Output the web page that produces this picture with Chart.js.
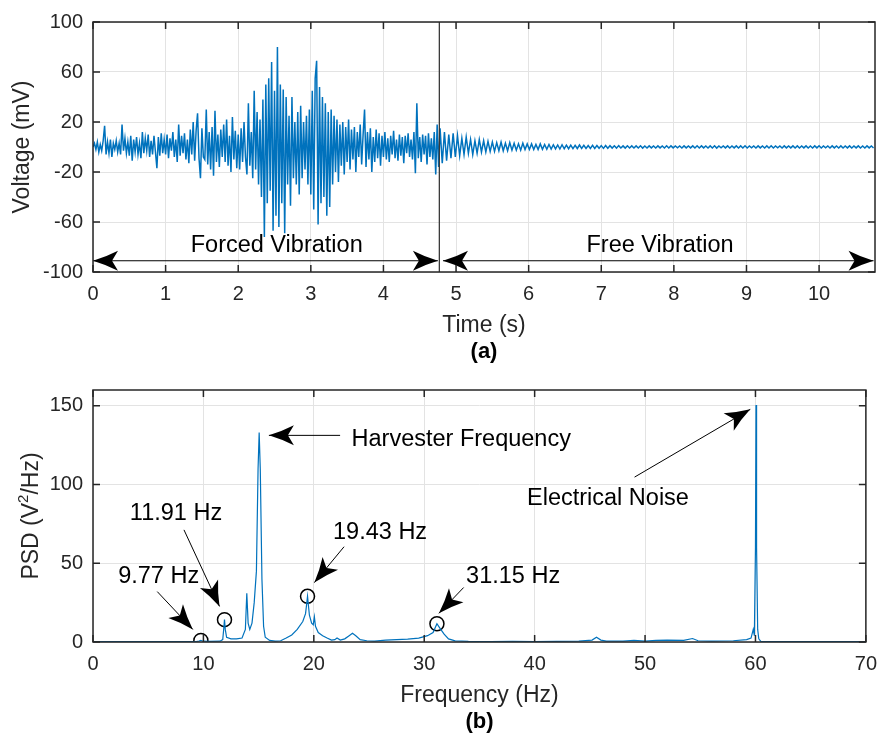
<!DOCTYPE html>
<html>
<head>
<meta charset="utf-8">
<title>Harvester voltage and PSD</title>
<script src="https://cdn.jsdelivr.net/npm/chart.js@4.4.1/dist/chart.umd.min.js"></script>
<style>
  html, body { margin: 0; padding: 0; background: #fff; }
  #wrap { position: relative; width: 887px; height: 733px; }
  canvas { position: absolute; left: 0; }
  #timeChart { top: 0; }
  #psdChart { top: 368px; }
</style>
</head>
<body>
<div id="wrap">
  <canvas id="timeChart" width="887" height="368"></canvas>
  <canvas id="psdChart" width="887" height="365"></canvas>
</div>
<script>
// (a) voltage record, mV. Forced part sampled every 0.02 s from t = 0,
// free decay listed peak to peak every 0.03 s from t = 4.78 s.
const forcedStep = 0.02;
const forcedVoltage = [
  0, 3, -2, 4, -4, 2, -3, 5, 17, -6, 4, -5, 6, -8, 3, -2, 5, -4, 3, -6, 18, -3, 7, -5, 4,
  -7, 9, -11, 6, -4, 8, -6, 3, -9, 12, -5, 7, -3, 10, -8, 5, -6, 9, -4, -17, 8, -7, 11, -5, 6,
  -6, 10, -9, 7, -3, 12, -8, 6, -12, 18, -7, 9, -5, 11, -10, 6, -13, 14, -6, 20, -11, 13, 27, -9, -25,
  15, -8, -10, 30, -14, 12, -18, 16, -23, 29, -12, 10, -16, 14, -8, 18, -12, 22, -15, 9, -20, 24, -10, 13, -17,
  10, -18, 15, -12, 20, -8, -22, 35, -15, 12, -25, 45, -18, 28, -30, 22, -40, 38, -72, 50, -45, 55, -35, 68, -67,
  45, -55, 80, -64, 50, -45, 46, -69, 40, -30, 25, -47, 40, -25, 20, -30, 28, -38, 33, -25, 20, -18, 25, -30, 30,
  -38, 45, -50, 55, 69, -62, 48, -45, 40, -40, 35, -55, 28, -48, 30, -30, 25, -20, 22, -28, 18, -15, 20, -22, 16,
  -12, 22, -18, 14, -10, 16, -20, 12, -8, 18, -14, 10, 30, -16, 12, -10, 15, -20, 8, -12, 14, -9, 11, -15, 9,
  -8, 12, -10, 7, -12, 9, -6, 13, -9, 6, -11, 10, -7, 8, -13, 9, -5, 11, -8, 6, -10, 12, -21, 35, -9,
  8, -12, 10, -6, 9, -14, 11, -8, 7, -10, 12, -22, 18, -16
];
const freeStart = 4.78;
const freeStep = 0.03;
const freeVoltage = [
  15, -13, 12, -11, 10, -9, 11, -8, 9, -7,
  7, -6, 8, -5, 6, -6, 5, -5, 6, -4,
  5, -4, 4.5, -3.5, 4, -3.5, 3.5, -3, 4, -3,
  3, -3, 3.5, -2.5, 3, -2.5, 2.5, -2.5, 3, -2,
  2.5, -2, 2.5, -2, 2, -2, 2.5, -1.8, 2, -1.8,
  2, -1.6, 1.8, -1.5, 1.6, -1.6, 1.8, -1.4, 1.5, -1.4,
  1.5, -1.3, 1.4, -1.2, 1.6, -1.2, 1.3, -1.2, 1.2, -1.1,
  1.3, -1.1, 1.2, -1, 1.1, -1.1, 1.2, -1, 1, -0.9,
  1, -0.9, 1.1, -0.8, 0.9, -0.9, 1, -0.8, 0.9, -0.8,
  0.9, -0.8, 1, -0.9, 0.8, -0.8, 0.9, -0.7, 0.8, -0.8,
  0.9, -0.7, 0.8, -0.8, 1, -0.8, 0.9, -0.7, 0.8, -0.7,
  0.8, -0.8, 0.9, -0.7, 0.8, -0.7, 0.9, -0.8, 1, -0.8,
  0.9, -0.7, 0.8, -0.8, 0.9, -0.8, 1, -0.9, 0.8, -0.7,
  0.8, -0.7, 0.9, -0.8, 0.8, -0.7, 0.9, -0.8, 0.9, -0.8,
  1, -0.8, 0.8, -0.7, 0.8, -0.8, 0.9, -0.7, 0.8, -0.8,
  0.9, -0.8, 1, -0.8, 0.8, -0.7, 0.8, -0.8, 0.9, -0.7,
  0.8, -0.7, 0.9, -0.8, 0.9, -0.8, 0.8, -0.7, 0.9, -0.8,
  0.8, -0.8, 0.9, -0.7, 1, -0.8, 0.8, -0.7, 0.8, -0.8,
  0.9, -0.7, 0.8, -0.8, 0.9, -0.8, 0.8, -0.7, 0.9, -0.8,
  0.8, -0.7, 0.9, -0.8, 0.8, -0.8, 0.9, -0.7, 0.8, -0.8
];
const switchTime = 4.77;
const timeTicks = [0, 1, 2, 3, 4, 5, 6, 7, 8, 9, 10];
const voltageTicks = [-100, -60, -20, 20, 60, 100];

// (b) power spectral density
const psdFreq = [
  0, 2, 5, 8, 9.4, 9.6, 9.77, 9.95, 10.5, 11.5, 11.75, 11.85, 11.91, 11.98, 12.1, 12.5, 13, 13.5,
  13.8, 13.93, 14.05, 14.2, 14.4, 14.6, 14.8, 14.95, 15.05, 15.15, 15.3, 15.45, 15.6, 16, 16.5,
  17, 17.5, 18, 18.5, 19, 19.25, 19.35, 19.43, 19.5, 19.6, 19.8, 19.95, 20.05, 20.15, 20.4, 20.8,
  21.2, 21.6, 21.9, 22.1, 22.4, 22.8, 23.2, 23.5, 23.8, 24.2, 24.8, 25.5, 26.5, 27.5, 28.5, 29.5,
  30.3, 30.8, 31.15, 31.4, 31.8, 32.2, 32.8, 34, 36, 38, 40, 42, 44, 45.2, 45.6, 46, 46.5, 48, 49,
  50, 51, 52, 53.5, 54.3, 54.8, 56, 58, 59.2, 59.6, 59.8, 59.9, 60, 60.05, 60.1, 60.2, 60.3, 60.5,
  62, 65, 70
];
const psdValue = [
  0.2, 0.2, 0.2, 0.3, 0.4, 0.6, 1.0, 0.5, 0.4, 0.5, 1.5, 9, 14.2, 8, 3, 2, 2, 2.5,
  8, 31, 12, 8, 12, 25, 45, 110, 133, 110, 40, 10, 3, 1, 0.5,
  0.8, 2.5, 4.5, 8, 13, 18, 24, 29, 24, 17, 12, 11, 16, 10, 6, 4,
  2.5, 1.2, 1.5, 2.5, 1.2, 2, 4, 5.5, 4, 1.5, 0.8, 0.6, 1.2, 1.5, 1.8, 2.5,
  4, 6, 11.6, 9, 5, 2, 0.7, 0.4, 0.3, 0.4, 0.3, 0.4, 0.6, 1.2, 3, 1.2, 0.6, 0.5, 1,
  0.6, 1, 1.2, 1, 2.2, 0.8, 0.6, 0.8, 1.5, 2.5, 8, 4, 60, 150.5, 60, 8, 2, 0.3,
  0.2, 0.2, 0.2
];
const markerFreq = [9.77, 11.91, 19.43, 31.15];
const markerPsd = [1.0, 14.2, 29.0, 11.6];
const freqTicks = [0, 10, 20, 30, 40, 50, 60, 70];
const psdTicks = [0, 50, 100, 150];

const FONT = '"Liberation Sans", Arial, Helvetica, sans-serif';
const INK = '#262626';
const GRID = '#e3e3e3';
const LINE = '#0072BD';

Chart.defaults.font.family = FONT;
Chart.defaults.color = INK;

function axis(min, max, ticks, fixed, horizontal) {
  return {
    type: 'linear',
    min: min,
    max: max,
    afterBuildTicks: s => { s.ticks = ticks.map(v => ({ value: v })); },
    afterFit: s => { if (horizontal) s.height = fixed; else s.width = fixed; },
    grid: { color: GRID, lineWidth: 1, drawTicks: false },
    border: { display: false },
    ticks: {
      padding: 10, autoSkip: false, maxRotation: 0, color: INK,
      font: { size: 20, family: FONT },
      callback: v => String(v)
    }
  };
}

function arrowHead(ctx, x, y, angle) {
  const len = 25, half = 10;
  ctx.save();
  ctx.translate(x, y);
  ctx.rotate(angle);
  ctx.beginPath();
  ctx.moveTo(0, 0);
  ctx.quadraticCurveTo(-len * 0.55, half * 0.42, -len, half);
  ctx.lineTo(-len * 0.76, 0);
  ctx.lineTo(-len, -half);
  ctx.quadraticCurveTo(-len * 0.55, -half * 0.42, 0, 0);
  ctx.closePath();
  ctx.fill();
  ctx.restore();
}

function drawArrow(ctx, x1, y1, x2, y2, both) {
  ctx.beginPath();
  ctx.moveTo(x1, y1);
  ctx.lineTo(x2, y2);
  ctx.stroke();
  const a = Math.atan2(y2 - y1, x2 - x1);
  arrowHead(ctx, x2, y2, a);
  if (both) arrowHead(ctx, x1, y1, a + Math.PI);
}

// frame, inner ticks, axis titles and the arrow/text notes
function decorations(cfg) {
  return {
    id: 'decorations',
    afterDatasetsDraw(chart) {
      const { ctx, chartArea: a, scales: { x, y } } = chart;
      ctx.save();
      if (cfg.divider !== undefined) {
        const px = x.getPixelForValue(cfg.divider);
        ctx.strokeStyle = '#3a3a3a';
        ctx.lineWidth = 1.3;
        ctx.beginPath();
        ctx.moveTo(px, a.top);
        ctx.lineTo(px, a.bottom);
        ctx.stroke();
      }
      ctx.strokeStyle = '#000';
      ctx.fillStyle = '#000';
      ctx.lineWidth = 1;
      cfg.arrows.forEach(r => drawArrow(ctx,
        x.getPixelForValue(r.from[0]), y.getPixelForValue(r.from[1]),
        x.getPixelForValue(r.to[0]), y.getPixelForValue(r.to[1]), r.both));
      ctx.font = '23.5px ' + FONT;
      ctx.textAlign = 'center';
      ctx.textBaseline = 'middle';
      cfg.notes.forEach(n => ctx.fillText(n.text, x.getPixelForValue(n.at[0]), y.getPixelForValue(n.at[1])));
      ctx.restore();
    },
    afterDraw(chart) {
      const { ctx, chartArea: a, scales: { x, y } } = chart;
      ctx.save();
      ctx.strokeStyle = INK;
      ctx.lineWidth = 1.5;
      ctx.strokeRect(a.left, a.top, a.right - a.left, a.bottom - a.top);
      const tl = 7;
      ctx.beginPath();
      x.ticks.forEach(t => {
        const px = x.getPixelForValue(t.value);
        ctx.moveTo(px, a.top); ctx.lineTo(px, a.top + tl);
        ctx.moveTo(px, a.bottom); ctx.lineTo(px, a.bottom - tl);
      });
      y.ticks.forEach(t => {
        const py = y.getPixelForValue(t.value);
        ctx.moveTo(a.left, py); ctx.lineTo(a.left + tl, py);
        ctx.moveTo(a.right, py); ctx.lineTo(a.right - tl, py);
      });
      ctx.stroke();

      const cx = (a.left + a.right) / 2;
      ctx.fillStyle = INK;
      ctx.textAlign = 'center';
      ctx.textBaseline = 'middle';
      ctx.font = '23px ' + FONT;
      ctx.fillText(cfg.xTitle, cx, a.bottom + 54);
      ctx.fillStyle = '#000';
      ctx.font = 'bold 22px ' + FONT;
      ctx.fillText(cfg.panel, cx, a.bottom + 80);

      // rotated y title, pieces allow a superscript
      ctx.fillStyle = INK;
      ctx.translate(cfg.yTitleX, (a.top + a.bottom) / 2);
      ctx.rotate(-Math.PI / 2);
      ctx.textAlign = 'left';
      const big = '23px ' + FONT, small = '15px ' + FONT;
      let total = 0;
      cfg.yTitle.forEach(p => { ctx.font = p.sup ? small : big; total += ctx.measureText(p.t).width; });
      let pos = -total / 2;
      cfg.yTitle.forEach(p => {
        ctx.font = p.sup ? small : big;
        ctx.fillText(p.t, pos, p.sup ? -8 : 0);
        pos += ctx.measureText(p.t).width;
      });
      ctx.restore();
    }
  };
}

const voltagePoints = forcedVoltage.map((v, i) => ({ x: i * forcedStep, y: v }))
  .concat(freeVoltage.map((v, i) => ({ x: freeStart + i * freeStep, y: v })));

new Chart(document.getElementById('timeChart'), {
  type: 'line',
  data: {
    datasets: [{
      data: voltagePoints,
      borderColor: LINE,
      borderWidth: 1.5,
      pointRadius: 0,
      tension: 0,
      fill: false
    }]
  },
  options: {
    responsive: false,
    devicePixelRatio: 1,
    animation: false,
    events: [],
    layout: { padding: { left: 0, right: 12, top: 18, bottom: 0 } },
    plugins: { legend: { display: false }, tooltip: { enabled: false } },
    scales: {
      x: axis(0, 10.77, timeTicks, 96, true),
      y: axis(-100, 100, voltageTicks, 93, false)
    }
  },
  plugins: [decorations({
    xTitle: 'Time (s)',
    panel: '(a)',
    yTitleX: 23,
    yTitle: [{ t: 'Voltage (mV)' }],
    divider: switchTime,
    arrows: [
      { from: [0, -91], to: [4.75, -91], both: true },
      { from: [4.82, -91], to: [10.75, -91], both: true }
    ],
    notes: [
      { text: 'Forced Vibration', at: [2.53, -79] },
      { text: 'Free Vibration', at: [7.81, -79] }
    ]
  })]
});

const psdPoints = psdFreq.map((f, i) => ({ x: f, y: psdValue[i] }));
const markerPoints = markerFreq.map((f, i) => ({ x: f, y: markerPsd[i] }));
const markerLabel = markerFreq.map(f => f.toFixed(2) + ' Hz');

new Chart(document.getElementById('psdChart'), {
  type: 'line',
  data: {
    datasets: [{
      data: psdPoints,
      borderColor: LINE,
      borderWidth: 1.2,
      pointRadius: 0,
      tension: 0,
      fill: false
    }, {
      type: 'scatter',
      data: markerPoints,
      showLine: false,
      pointRadius: 7,
      pointStyle: 'circle',
      borderColor: '#000',
      backgroundColor: 'rgba(0,0,0,0)',
      borderWidth: 1.5
    }]
  },
  options: {
    responsive: false,
    devicePixelRatio: 1,
    animation: false,
    events: [],
    layout: { padding: { left: 0, right: 12, top: 21, bottom: 0 } },
    plugins: { legend: { display: false }, tooltip: { enabled: false } },
    scales: {
      x: axis(0, 70, freqTicks, 91, true),
      y: axis(0, 160, psdTicks, 93, false)
    }
  },
  plugins: [decorations({
    xTitle: 'Frequency (Hz)',
    panel: '(b)',
    yTitleX: 32,
    yTitle: [{ t: 'PSD (V' }, { t: '2', sup: true }, { t: '/Hz)' }],
    arrows: [
      { from: [22.38, 131.2], to: [15.93, 131.2] },
      { from: [49.05, 104.7], to: [59.53, 147.7] },
      { from: [5.82, 32.0], to: [9.04, 8.0] },
      { from: [8.24, 71.2], to: [11.46, 22.6] },
      { from: [22.74, 60.5], to: [20.05, 37.7] },
      { from: [33.57, 34.6], to: [31.33, 18.2] }
    ],
    notes: [
      { text: 'Harvester Frequency', at: [33.35, 128.7] },
      { text: 'Electrical Noise', at: [46.64, 91.4] },
      { text: markerLabel[0], at: [5.95, 41.5] },
      { text: markerLabel[1], at: [7.52, 81.3] },
      { text: markerLabel[2], at: [26.0, 69.3] },
      { text: markerLabel[3], at: [38.05, 41.5] }
    ]
  })]
});
</script>
</body>
</html>
